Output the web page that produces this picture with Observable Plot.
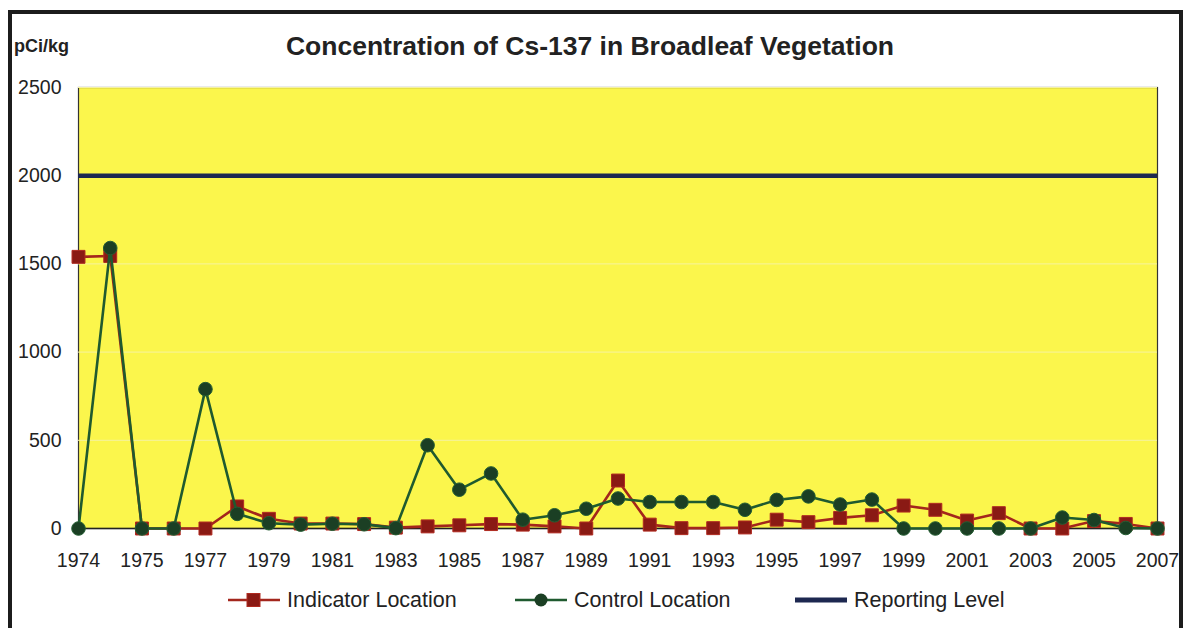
<!DOCTYPE html>
<html>
<head>
<meta charset="utf-8">
<script src="https://cdn.jsdelivr.net/npm/d3@7"></script>
<script src="https://cdn.jsdelivr.net/npm/@observablehq/plot@0.6"></script>
<style>
  html, body { margin: 0; padding: 0; background: #fff; }
  body { width: 1184px; height: 628px; overflow: hidden; position: relative; font-family: "Liberation Sans", Arial, sans-serif; }
  #frame { position: absolute; left: 8px; top: 10px; width: 1175px; height: 700px; box-sizing: border-box; border: 4px solid #1c1c1c; }
  #title { position: absolute; left: 0; width: 1180px; top: 31px; text-align: center; font-weight: bold; font-size: 26.5px; color: #222; }
  #unit { position: absolute; left: 14px; top: 36px; font-weight: bold; font-size: 18px; color: #222; }
  #chart { position: absolute; left: 0; top: 70px; }
  #legend { position: absolute; top: 587px; left: 0; width: 1184px; height: 26px; font-size: 21.5px; color: #222; }
  .item { position: absolute; top: 0; display: flex; align-items: center; height: 26px; }
  .item svg { margin-right: 6px; }
</style>
</head>
<body>
<div id="frame"></div>
<div id="unit">pCi/kg</div>
<div id="title">Concentration of Cs-137 in Broadleaf Vegetation</div>
<div id="chart"></div>
<div id="legend"></div>
<script>
// Category labels (index positions along the category axis)
const categories = ["1974","1974","1975","1976","1977","1978","1979","1980","1981","1982",
  "1983","1984","1985","1986","1987","1988","1989","1990","1991","1992",
  "1993","1994","1995","1996","1997","1998","1999","2000","2001","2002",
  "2003","2004","2005","2006","2007"];
const indicator = [1540,1545,0,0,0,125,55,28,28,25,
  5,12,18,25,22,12,0,272,22,2,
  2,6,50,36,60,75,130,106,45,87,
  0,0,42,26,0];
const control = [0,1590,0,0,790,83,30,22,27,24,
  2,472,220,312,50,75,112,170,150,150,
  150,106,162,182,136,164,0,0,0,0,
  0,62,48,3,0];
const reportingLevel = 2000;
const yTicks = [0,500,1000,1500,2000,2500];
const xTickIdx = d3.range(0, categories.length, 2);
const seriesNames = ["Indicator Location","Control Location","Reporting Level"];

const colors = {
  indLine: "#a3261c", indMark: "#8a1a14",
  ctlLine: "#1f5a2f", ctlMark: "#1b3f24",
  rep: "#1d2850"
};

const ind = indicator.map((v,i) => ({i, v}));
const ctl = control.map((v,i) => ({i, v}));

const chart = Plot.plot({
  width: 1184,
  height: 508,
  marginTop: 17,
  marginBottom: 50,
  marginLeft: 78,
  marginRight: 27,
  style: {fontFamily: "Liberation Sans, Arial, sans-serif", fontSize: "19.5px", color: "#222", background: "transparent"},
  x: {domain: [0, categories.length - 1], label: null},
  y: {domain: [0, 2500], label: null},
  marks: [
    Plot.frame({fill: "#fbf64c", stroke: "#333", strokeWidth: 1.2}),
    Plot.ruleY(yTicks.filter(d => d > 0 && d !== reportingLevel), {stroke: "#f6f3a0", strokeWidth: 1}),
    Plot.ruleY([0], {stroke: "#222", strokeWidth: 1.5}),
    Plot.ruleY([reportingLevel], {stroke: colors.rep, strokeWidth: 4.5}),
    Plot.line(ind, {x: "i", y: "v", stroke: colors.indLine, strokeWidth: 2.6}),
    Plot.dot(ind, {x: "i", y: "v", symbol: "square", r: 7.3, fill: colors.indMark, stroke: "#b02a20", strokeWidth: 1}),
    Plot.line(ctl, {x: "i", y: "v", stroke: colors.ctlLine, strokeWidth: 2.6}),
    Plot.dot(ctl, {x: "i", y: "v", r: 6.8, fill: colors.ctlMark, stroke: "#245e33", strokeWidth: 1}),
    Plot.axisX({ticks: xTickIdx, tickFormat: i => categories[i], tickSize: 0, tickPadding: 25}),
    Plot.axisY({ticks: yTicks, tickFormat: d => String(d), tickSize: 0, tickPadding: 17})
  ]
});
document.getElementById("chart").appendChild(chart);

// Legend
const legend = document.getElementById("legend");
const legendItems = [
  {name: seriesNames[0], left: 228, line: colors.indLine, mark: "square", fill: colors.indMark},
  {name: seriesNames[1], left: 515, line: colors.ctlLine, mark: "circle", fill: colors.ctlMark},
  {name: seriesNames[2], left: 795, line: colors.rep, mark: null}
];
for (const it of legendItems) {
  const div = document.createElement("div");
  div.className = "item";
  div.style.left = it.left + "px";
  let sw = `<svg width="53" height="26">`;
  sw += `<line x1="0" x2="52" y1="13" y2="13" stroke="${it.line}" stroke-width="${it.mark ? 2.5 : 5}"/>`;
  if (it.mark === "square") sw += `<rect x="19" y="6.5" width="13" height="13" fill="${it.fill}" stroke="#b02a20"/>`;
  if (it.mark === "circle") sw += `<circle cx="26" cy="13" r="6.5" fill="${it.fill}"/>`;
  sw += `</svg>`;
  div.innerHTML = sw + `<span>${it.name}</span>`;
  legend.appendChild(div);
}
</script>
</body>
</html>
